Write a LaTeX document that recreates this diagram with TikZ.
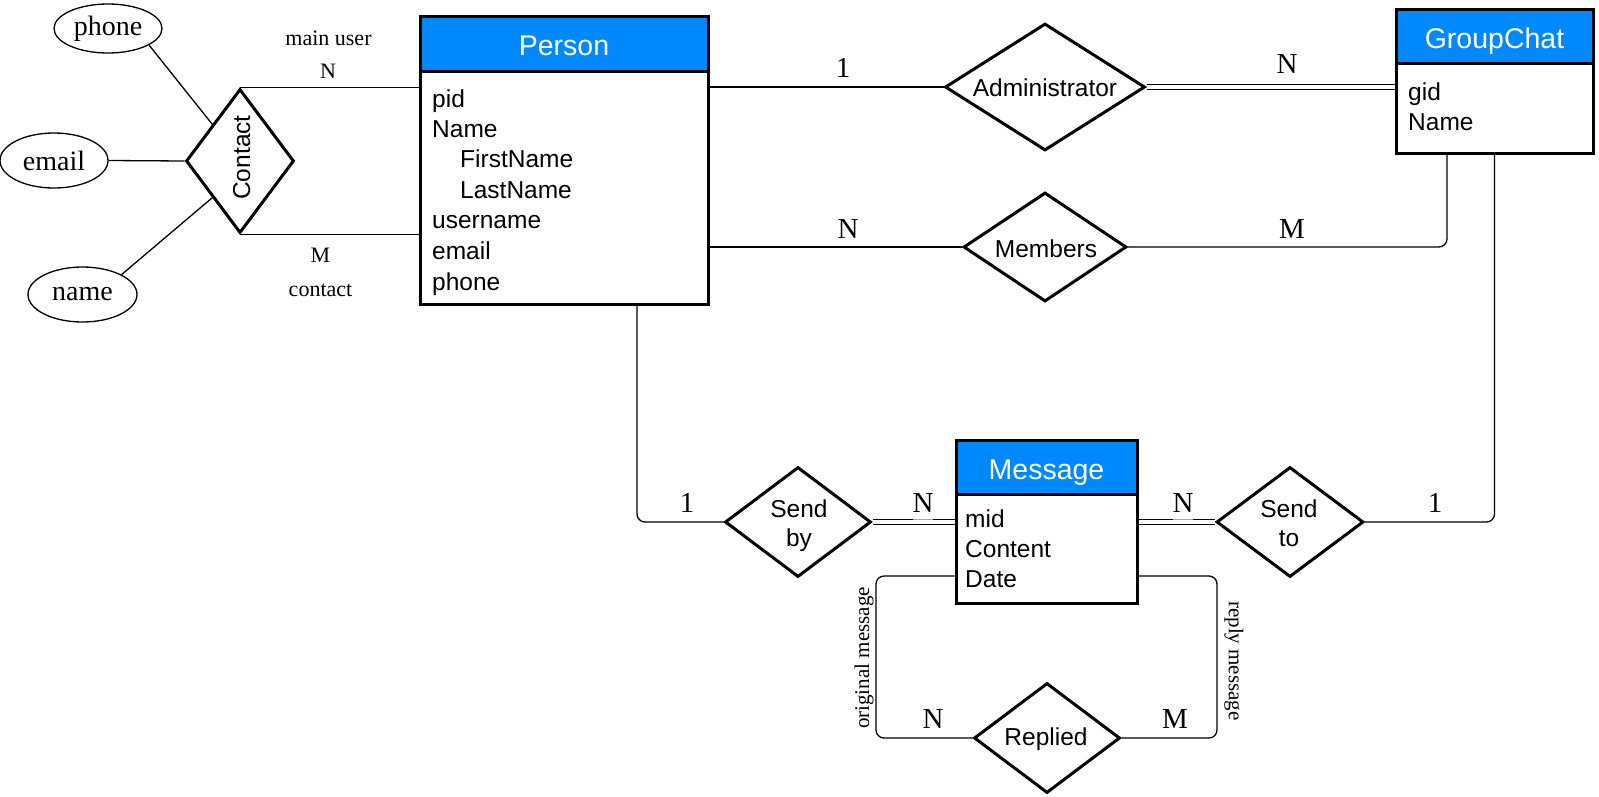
\documentclass[tikz,border=0pt]{standalone}
\usepackage{fontspec}
\setmainfont{Liberation Serif}
\newfontfamily\hv{Liberation Sans}
\usetikzlibrary{shapes.geometric}
\definecolor{hblue}{RGB}{0,136,255}
\begin{document}
\begin{tikzpicture}[x=1pt,y=-1pt,
  entbox/.style={draw, line width=3pt, fill=white, inner sep=0pt},
  hdr/.style={draw, line width=3pt, fill=hblue, text=white, font=\hv\fontsize{28.5}{30}\selectfont, text height=24pt, text depth=0pt, inner sep=0pt},
  attr/.style={anchor=base west, font=\hv\fontsize{24.5}{30}\selectfont, inner sep=0pt},
  rel/.style={draw, diamond, line width=3pt, fill=white, inner sep=0pt},
  reltxt/.style={anchor=base, font=\hv\fontsize{24.5}{30}\selectfont, inner sep=0pt},
  attrell/.style={draw, ellipse, line width=1.3pt, inner sep=0pt, font=\fontsize{28}{30}\selectfont},
  conn/.style={line width=1.3pt},
  dconn/.style={line width=1.2pt, double, double distance=4.5pt},
  card/.style={anchor=base, font=\fontsize{29}{30}\selectfont, inner sep=0pt},
  cardbg/.style={card, fill=white, fill opacity=0.65, text opacity=1, inner xsep=0pt, inner ysep=8pt},
  smalllbl/.style={anchor=base, font=\fontsize{22}{24}\selectfont, inner sep=0pt},
  rotlbl/.style={font=\fontsize{21}{24}\selectfont, inner sep=0pt},
]
\useasboundingbox (0,0) rectangle (1599,796);

% ---------- entities ----------
\node[entbox, minimum width=288pt, minimum height=288pt] (person) at (564,160) {};
\node[hdr, minimum width=288pt, minimum height=55pt, anchor=north] (personH) at (person.north) {Person};
\node[attr] (pA1) at (432,107) {pid};
\node[attr] (pA2) at (432,137) {Name};
\node[attr] (pA3) at (460,167) {FirstName};
\node[attr] (pA4) at (460,198) {LastName};
\node[attr] (pA5) at (432,228) {username};
\node[attr] (pA6) at (432,259) {email};
\node[attr] (pA7) at (432,290) {phone};

\node[entbox, minimum width=197pt, minimum height=144pt] (gc) at (1494.5,81) {};
\node[hdr, minimum width=197pt, minimum height=54pt, anchor=north] (gcH) at (gc.north) {GroupChat};
\node[attr] (gA1) at (1408,100) {gid};
\node[attr] (gA2) at (1408,130) {Name};

\node[entbox, minimum width=181pt, minimum height=163pt] (msg) at (1046.5,521.5) {};
\node[hdr, minimum width=181pt, minimum height=54pt, anchor=north] (msgH) at (msg.north) {Message};
\node[attr] (mA1) at (965,527) {mid};
\node[attr] (mA2) at (965,557) {Content};
\node[attr] (mA3) at (965,587) {Date};

% ---------- relationships ----------
\node[rel, minimum width=108pt, minimum height=144pt] (contact) at (240,161) {};
\node[reltxt, rotate=90] (contactT) at (250,157.5) {Contact};

\node[rel, minimum width=200pt, minimum height=127pt] (adm) at (1045,87) {};
\node[reltxt] (admT) at (1045,96) {Administrator};

\node[rel, minimum width=163pt, minimum height=109pt] (mem) at (1045,247) {};
\node[reltxt] (memT) at (1046,257) {Members};

\node[rel, minimum width=146pt, minimum height=110pt] (sb) at (798,522) {};
\node[reltxt] (sbT1) at (799,517) {Send};
\node[reltxt] (sbT2) at (799,546) {by};

\node[rel, minimum width=147pt, minimum height=110pt] (st) at (1290,522) {};
\node[reltxt] (stT1) at (1289,517) {Send};
\node[reltxt] (stT2) at (1289,546) {to};

\node[rel, minimum width=146pt, minimum height=110pt] (rep) at (1047,738) {};
\node[reltxt] (repT) at (1046,745.5) {Replied};

% ---------- attribute ellipses ----------
\node[attrell, minimum width=108pt, minimum height=49pt] (phone) at (108,28.5) {phone};
\node[attrell, minimum width=108pt, minimum height=55pt] (email) at (54,160.5) {email};
\node[attrell, minimum width=109pt, minimum height=55pt] (name) at (82.5,294.5) {name};

% ---------- connectors ----------
\draw[conn] (phone.-22) -- (contact.north west);
\draw[conn] (email.east) -- (contact.west);
\draw[conn] (name.27) -- (contact.south west);

\draw[conn] (contact.north) -- (contact.north -| person.west);
\draw[conn] (contact.south) -- (contact.south -| person.west);

\draw[conn] (adm.west) -- (adm.west -| person.east);
\draw[dconn] (adm.east) -- (adm.east -| gc.west);

\draw[conn] (mem.west) -- (mem.west -| person.east);
\coordinate (gcB1) at ([xshift=-47.5pt]gc.south);
\draw[conn, rounded corners=8pt] (mem.east) -| (gcB1);

\coordinate (pB) at ([xshift=73pt]person.south);
\draw[conn, rounded corners=8pt] (pB) |- (sb.west);
\draw[dconn] (sb.east) -- (sb.east -| msg.west);
\draw[dconn] (msg.east |- st.west) -- (st.west);
\draw[conn, rounded corners=8pt] (st.east) -| (gc.south);

\coordinate (loopL) at (876,738);
\coordinate (loopR) at (1217,738);
\draw[conn, rounded corners=8pt] (msg.west |- 0,576) -| (loopL) -- (rep.west);
\draw[conn, rounded corners=8pt] (msg.east |- 0,576) -| (loopR) -- (rep.east);

% ---------- labels ----------
\node[smalllbl] (lMain) at (328.5,45) {main user};
\node[smalllbl] (lN0) at (328,78) {N};
\node[smalllbl] (lM0) at (320.5,262) {M};
\node[smalllbl] (lCont) at (320.5,296) {contact};

\node[card] (c1) at (843,77) {1};
\node[card] (c2) at (1287,73) {N};
\node[card] (c3) at (848,238) {N};
\node[card] (c4) at (1292,238) {M};
\node[card] (c5) at (687,512) {1};
\node[cardbg] (c6) at (923,512) {N};
\node[cardbg] (c7) at (1183,512) {N};
\node[card] (c8) at (1435,512) {1};
\node[card] (c9) at (933,728) {N};
\node[card] (c10) at (1175,728) {M};

\node[rotlbl, rotate=90] (lOrig) at (864,658) {original message};
\node[rotlbl, rotate=-90] (lReply) at (1234,661) {reply message};
\end{tikzpicture}
\end{document}
